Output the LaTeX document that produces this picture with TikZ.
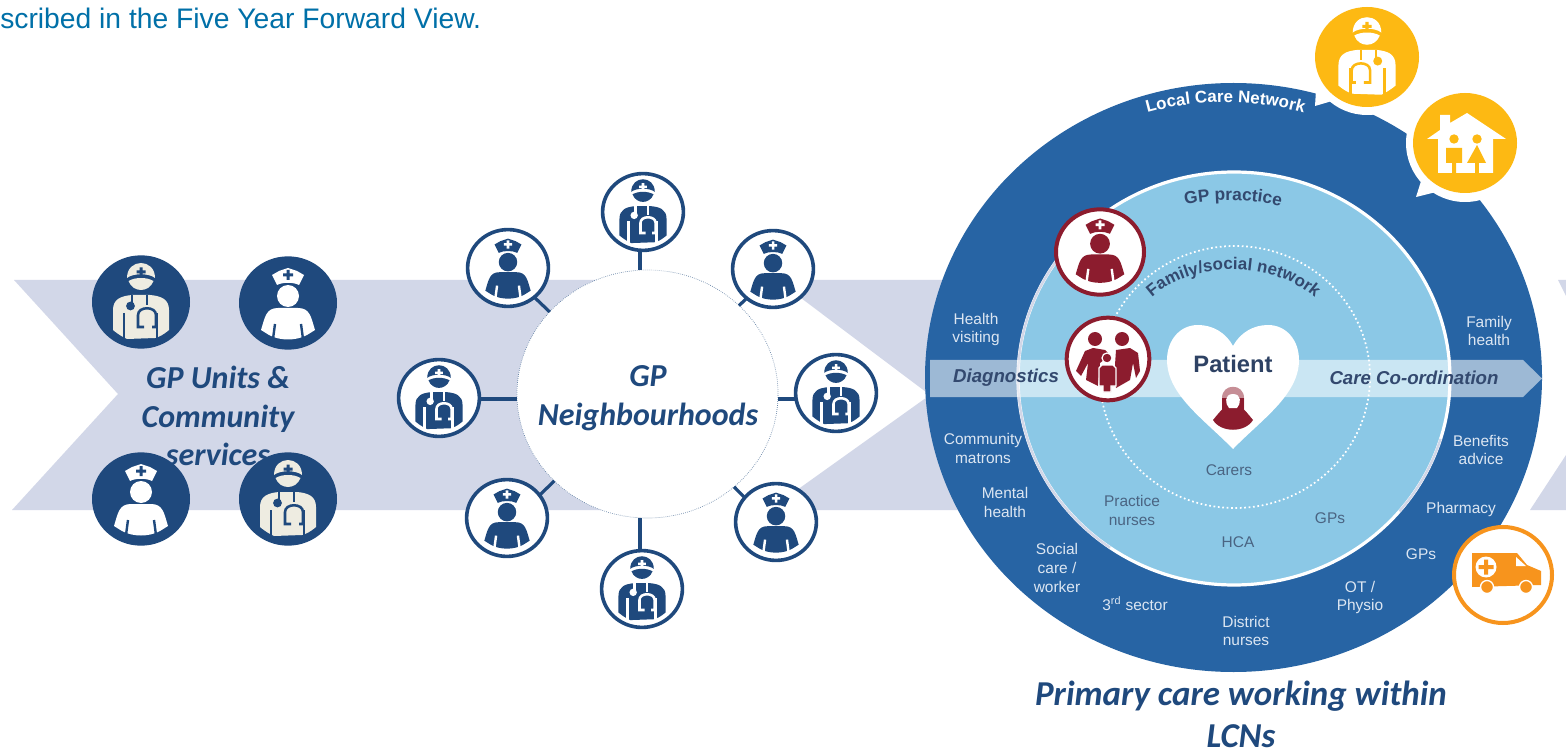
\documentclass[tikz,border=0pt]{standalone}
\usepackage{fontspec}
\setmainfont{Liberation Sans}
\newfontfamily\calib{Carlito}
\usetikzlibrary{shapes.geometric,decorations.text}
\definecolor{navy}{HTML}{1F497D}
\definecolor{cream}{HTML}{EEECE1}
\definecolor{band}{HTML}{D2D7E8}
\definecolor{ring}{HTML}{2764A4}
\definecolor{inner}{HTML}{8BC8E6}
\definecolor{crimson}{HTML}{8C1C2E}
\definecolor{amber}{HTML}{FDB913}
\definecolor{orangeb}{HTML}{F7941D}
\definecolor{slate}{HTML}{4A6482}
\definecolor{deep}{HTML}{33496F}
\definecolor{pale}{HTML}{DCE6F2}
\definecolor{toptext}{HTML}{0070A8}
\tikzset{
 pics/nurseicon/.style 2 args={code={
  \fill[#1] (-16,-28) -- (-9,-32) -- (0,-35) -- (9,-32) -- (16,-28) -- (11,-18) .. controls (5,-21) and (-5,-21) .. (-11,-18) -- cycle;
  \fill[#2] (-1.5,-33) rectangle (1.5,-23) (-5,-29.5) rectangle (5,-26.5);
  \fill[#1] (0,-7) circle (11);
  \fill[#1] (-27,27) .. controls (-23,14) and (-22,5) .. (-10,5) -- (10,5) .. controls (22,5) and (23,14) .. (27,27) -- (19,32) .. controls (8,38) and (-8,38) .. (-19,32) -- cycle;
  \draw[#2,line width=1.8pt] (-13,21) -- (-15,36) (13,21) -- (15,36);
 }},
 pics/docicon/.style 2 args={code={
  \fill[#1] (-14,-24) .. controls (-14,-44) and (14,-44) .. (14,-24) .. controls (8,-29) and (-8,-29) .. (-14,-24) -- cycle;
  \fill[#2] (-1.5,-34.5) rectangle (1.5,-25.5) (-4.5,-31.5) rectangle (4.5,-28.5);
  \fill[#1] (-12.5,-21) .. controls (-6,-25) and (6,-25) .. (12.5,-21) .. controls (8,-9) and (-8,-9) .. (-12.5,-21) -- cycle;
  \fill[#1] (-28,28) -- (-28,8) .. controls (-28,-3) and (-20,-6) .. (-9,-7) -- (9,-7) .. controls (20,-6) and (28,-3) .. (28,8) -- (28,28) .. controls (22,33) and (18,35) .. (14,36) -- (-14,37) .. controls (-18,35) and (-22,33) .. (-28,28) -- cycle;
  \draw[#2,line width=1.6pt] (-9,-7) -- (-9,3) (6,-7) -- (6,3);
  \fill[#2] (-10.5,4) circle (4.4);
  \draw[#2,line width=2pt] (-17,11) -- (-17,37) (16,11) -- (16,37);
  \draw[#2,line width=1.9pt] (3,25) -- (-3,25) -- (-3,13) .. controls (-3,4) and (15,4) .. (15,13) -- (15,25) -- (11,25);
 }},
 hubnode/.style={ellipse,draw=navy!70,densely dotted,line width=0.5pt,fill=white,minimum width=195.8pt,minimum height=186pt,inner sep=0pt,outer sep=0pt},
 satnode/.style={ellipse,draw=navy,line width=2.7pt,fill=white,minimum width=60.6pt,minimum height=57.6pt,inner sep=0pt,outer sep=0pt},
 solidnode/.style={ellipse,fill=navy,minimum width=73.5pt,minimum height=70pt,inner sep=0pt,outer sep=0pt},
 linkline/.style={draw=navy,line width=2.4pt},
 bigcal/.style={font=\calib\bfseries\itshape\fontsize{24}{29}\selectfont,text=navy,align=center,inner sep=0pt},
 outerlab/.style={font=\fontsize{11.6}{14.2}\selectfont,text=pale,align=center,inner sep=0pt},
 innerlab/.style={font=\fontsize{11.6}{14.2}\selectfont,text=slate,align=center,inner sep=0pt},
 bandlab/.style={font=\bfseries\itshape\fontsize{14}{16}\selectfont,text=deep,inner sep=0pt},
 rednode/.style={ellipse,draw=crimson,line width=3pt,fill=white,inner sep=0pt,outer sep=0pt},
 ambernode/.style={ellipse,fill=amber,inner sep=0pt,outer sep=0pt},
}
\newcommand{\lcnfont}{\bfseries\fontsize{12.7}{14}\selectfont}
\newcommand{\gppfont}{\bfseries\fontsize{13}{14}\selectfont}
\newcommand{\famfont}{\bfseries\fontsize{12.7}{14}\selectfont}
\begin{document}
\begin{tikzpicture}[x=0.75pt,y=-0.75pt]
\useasboundingbox (0,0) rectangle (1566,748);
\fill[white] (0,0) rectangle (1566,748);
% chevrons
\fill[band] (14,280) -- (647,280) -- (647,510) -- (12,510) -- (118,394) -- cycle;
\fill[band] (777,280) -- (1230,280) -- (1230,510) -- (769,510) -- (930,395) -- cycle;
\fill[band] (1558,280) -- (1566,280) -- (1566,296) -- cycle;
\fill[band] (1530,510) -- (1566,455) -- (1566,510) -- cycle;
% top text
\node[anchor=base west,inner sep=0pt,text=toptext,font=\fontsize{21.2}{24}\selectfont] (toptxt) at (0,28.5) {scribed in the Five Year Forward View.};
% left group
\node[bigcal] (units) at (218,416) {GP Units \&\\Community\\services};
\node[solidnode] (n1) at (141,302) {};
\node[solidnode] (n2) at (288,303) {};
\node[solidnode] (n3) at (141,499) {};
\node[solidnode] (n4) at (288,499) {};
\pic at (n1) {docicon={cream}{navy}};
\pic at (n2) {nurseicon={white}{navy}};
\pic at (n3) {nurseicon={white}{navy}};
\pic at (n4) {docicon={cream}{navy}};
% hub
\node[hubnode] (hub) at (647.5,394) {};
\node[bigcal] (hubtxt) at (648,398) {GP\\Neighbourhoods};
\node[satnode] (st) at (643,212) {};
\node[satnode] (stl) at (508,268) {};
\node[satnode] (str) at (773,269) {};
\node[satnode] (sl) at (439,398) {};
\node[satnode] (sr) at (836,393) {};
\node[satnode] (sbl) at (507,518) {};
\node[satnode] (sbr) at (776,522) {};
\node[satnode] (sb) at (642,589) {};
\coordinate (vx) at (640,399);
\draw[linkline] (st.south -| vx) -- (hub.north -| vx);
\draw[linkline] (stl.-48.1) -- (hub.140.1);
\draw[linkline] (str.228) -- (hub.44.4);
\draw[linkline] (sl.east |- vx) -- (hub.west |- vx);
\draw[linkline] (sr.west |- vx) -- (hub.east |- vx);
\draw[linkline] (sbl.35.4) -- (hub.223.5);
\draw[linkline] (sbr.142.3) -- (hub.-47.7);
\draw[linkline] (sb.north -| vx) -- (hub.south -| vx);
\pic[scale=.84] at (st) {docicon={navy}{white}};
\pic[scale=.84] at (sl) {docicon={navy}{white}};
\pic[scale=.84] at (sr) {docicon={navy}{white}};
\pic[scale=.84] at (sb) {docicon={navy}{white}};
\pic[scale=.84] at (stl) {nurseicon={navy}{white}};
\pic[scale=.84] at (str) {nurseicon={navy}{white}};
\pic[scale=.84] at (sbl) {nurseicon={navy}{white}};
\pic[scale=.84] at (sbr) {nurseicon={navy}{white}};
% large circle
\fill[ring] (1233.5,377.5) ellipse [x radius=308.5,y radius=294.5];
\fill[inner] (1234,378.5) ellipse [x radius=216,y radius=206.5];
\draw[white,line width=2.4pt] (1234,378.5) ellipse [x radius=216,y radius=206.5];
\draw[band,line width=1.8pt] (1234,378.5) ++(125:216 and 206.5) arc[start angle=125,end angle=215,x radius=216,y radius=206.5];
\draw[band,line width=1.8pt] (1234,378.5) ++(17:216 and 206.5) arc[start angle=17,end angle=40,x radius=216,y radius=206.5];
% band in circle
\begin{scope}
 \clip (1233.5,377.5) ellipse [x radius=308.5,y radius=294.5];
 \fill[fill=white,fill opacity=.55] (930,360) -- (1523,360) -- (1542,378.5) -- (1523,397) -- (930,397) -- cycle;
\end{scope}
\draw[white,dotted,line width=1.3pt] (1235,377) ellipse [x radius=135,y radius=131];
% heart
\fill[white] (1233,449) .. controls (1205,420) and (1167,395) .. (1167,360) .. controls (1167,340) and (1180,325) .. (1198,325) .. controls (1213,325) and (1226,333) .. (1233,346) .. controls (1240,333) and (1253,325) .. (1268,325) .. controls (1286,325) and (1299,340) .. (1299,360) .. controls (1299,395) and (1261,420) .. (1233,449) -- cycle;
% patient icon
\fill[crimson!50] (1222,410) -- (1222,398) .. controls (1222,383) and (1244,383) .. (1244,398) -- (1244,410) -- cycle;
\fill[crimson] (1222,398) rectangle (1244,412);
\fill[white] (1233,394) .. controls (1224,394) and (1225,404) .. (1229,408) -- (1237,408) .. controls (1241,404) and (1242,394) .. (1233,394) -- cycle;
\fill[crimson] (1213,420) .. controls (1218,414) and (1221,410) .. (1224,408) .. controls (1229,411) and (1237,411) .. (1242,408) .. controls (1245,410) and (1248,414) .. (1253,420) .. controls (1245,433) and (1221,433) .. (1213,420) -- cycle;
% labels
\node[font=\bfseries\fontsize{17.8}{20}\selectfont,text=deep!90!black,inner sep=0pt] (patient) at (1233,364) {Patient};
\node[bandlab] (diag) at (1006,378) {Diagnostics};
\node[bandlab] (care) at (1414,378) {Care Co-ordination};
\node[outerlab] (l1) at (976,329.5) {Health\\visiting};
\node[outerlab] (l2) at (1489,331) {Family\\health};
\node[outerlab] (l3) at (983,448.5) {Community\\matrons};
\node[outerlab] (l4) at (1005,502.5) {Mental\\health};
\node[outerlab] (l5) at (1057,568) {Social\\care /\\worker};
\node[outerlab] (l6) at (1135,604) {3\textsuperscript{rd} sector};
\node[outerlab] (l7) at (1246,631) {District\\nurses};
\node[outerlab] (l8) at (1360,597.5) {OT /\\Physio};
\node[outerlab] (l9) at (1421,554) {GPs};
\node[outerlab] (l10) at (1461,509) {Pharmacy};
\node[outerlab] (l11) at (1481,450) {Benefits\\advice};
\node[innerlab] (i1) at (1132,510.5) {Practice\\nurses};
\node[innerlab] (i2) at (1238,542) {HCA};
\node[innerlab] (i3) at (1330,518) {GPs};
\node[innerlab] (i4) at (1229,470) {Carers};
\path[postaction={decorate,decoration={text along path,text align=center,text color=white,text={|\lcnfont|Local Care Network}}}] (1140,115) .. controls (1195,98) and (1255,98) .. (1311,115);
\path[postaction={decorate,decoration={text along path,text align=center,text color=deep,text={|\gppfont|GP practice}}}] (1178,206) .. controls (1215,198) and (1250,198) .. (1288,208);
\path[postaction={decorate,decoration={text along path,text align=center,text color=deep,text={|\famfont|Family/social network}}}] (1138,314) .. controls (1175,255) and (1290,255) .. (1329,314);
% red icons
\node[rednode,minimum width=66pt,minimum height=64pt] (rn) at (1100,252) {};
\pic[scale=.9] at (1100,250) {nurseicon={crimson}{white}};
\node[rednode,minimum width=62pt,minimum height=62pt] (rf) at (1108,359) {};
\begin{scope}[shift={(1108,359)}]
 \fill[crimson] (-13,-20) circle (7) (14,-20) circle (7);
 \fill[crimson] (-32,12) -- (-23,-8) -- (-15,-11) -- (-3,-9) -- (2,-4) -- (-8,4) -- (-10,27) -- (-22,21) -- (-20,4) -- (-27,17) -- cycle;
 \fill[crimson] (8,-9) -- (22,-11) -- (30,-6) -- (32,12) -- (28,19) -- (25,4) -- (22,21) -- (8,29) -- (7,6) -- cycle;
 \filldraw[crimson,draw=white,line width=.9pt] (-1,-1) circle (5);
 \filldraw[crimson,draw=white,line width=.9pt] (-9,9) -- (-6,6) -- (5,6) -- (8,9) -- (8,27) -- (3,27) -- (3,33) -- (-5,33) -- (-5,27) -- (-9,27) -- cycle;
\end{scope}
% amber bubbles
\fill[white] (1367,57) circle (58);
\fill[white] (1465,143) circle (59);
\fill[white] (1315,106) -- (1316,90) -- (1335,90) -- (1332,101) -- cycle;
\fill[white] (1416,197) -- (1422,178) -- (1436,192) -- cycle;
\node[ambernode,minimum width=78pt,minimum height=75pt] (ya) at (1367,57) {};
\node[ambernode,minimum width=78pt,minimum height=75pt] (yb) at (1465,143) {};
\pic[xscale=-1.02,yscale=1.02] at (ya) {docicon={white}{amber}};
\fill[white] (1427,139) -- (1440,130) -- (1440,115) -- (1450,115) -- (1450,123) -- (1467,113) -- (1506,139) -- (1493,139) -- (1493,173) -- (1438,173) -- (1438,139) -- cycle;
\fill[amber] (1454,139) circle (4.7) (1477,139) circle (4.7);
\fill[amber] (1446,148) rectangle (1462,163) (1452,163) rectangle (1456,173);
\fill[amber] (1477,145) -- (1486,163) -- (1467,163) -- cycle;
\fill[amber] (1475,163) rectangle (1479,173);
% ambulance
\node[ellipse,draw=orangeb,line width=3pt,fill=white,minimum width=73.5pt,minimum height=72pt,inner sep=0pt,outer sep=0pt] (amb) at (1503,575) {};
\fill[orangeb] (1472,553) -- (1517,553) -- (1527,565) -- (1541,571) -- (1541,585) -- (1472,587) -- cycle;
\fill[white] (1516,557) -- (1526,566) -- (1516,566) -- cycle;
\fill[white] (1486,567) circle (10.5);
\fill[orangeb] (1484,559.5) rectangle (1488,574.5) (1478.5,565) rectangle (1493.5,569);
\filldraw[orangeb,draw=white,line width=1pt] (1487,587) circle (6.5) (1526,587) circle (6.5);
% bottom
\node[bigcal,font=\calib\bfseries\itshape\fontsize{26.2}{31.5}\selectfont] (cap) at (1241,714) {Primary care working within\\LCNs};
\end{tikzpicture}
\end{document}
